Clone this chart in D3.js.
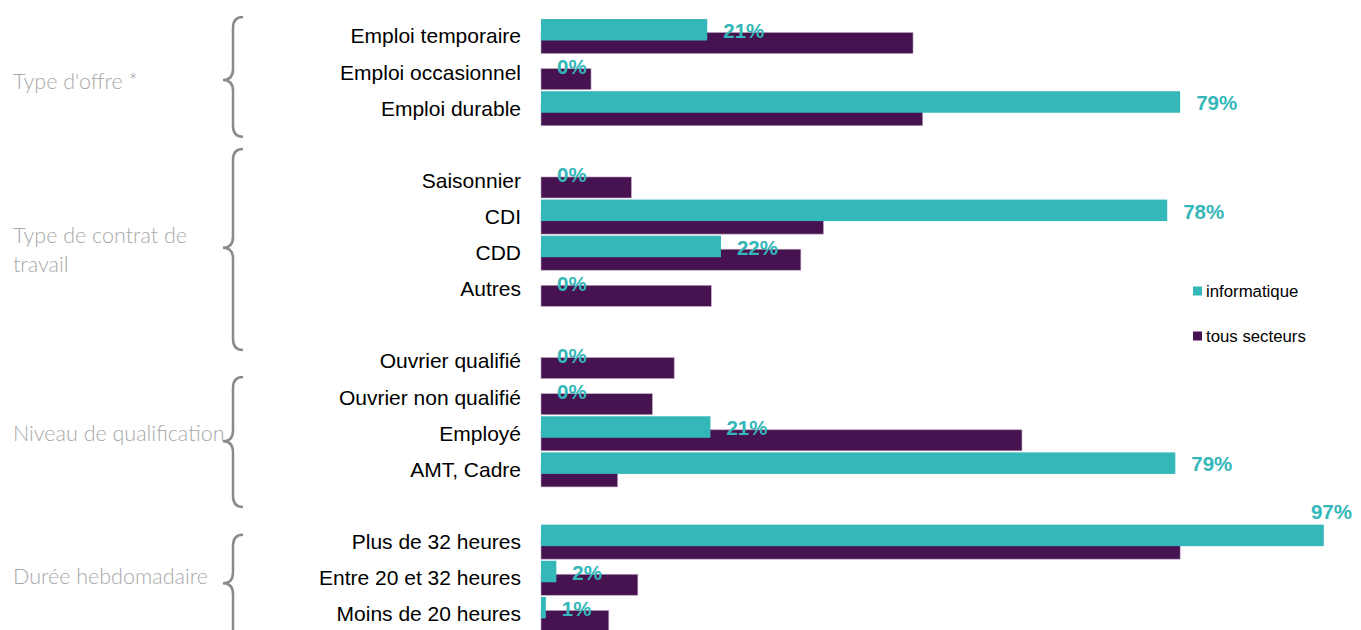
<!DOCTYPE html>
<html>
<head>
<meta charset="utf-8">
<script src="https://cdn.jsdelivr.net/npm/d3@7"></script>
<style>
  body { margin: 0; background: #fff; }
  svg { display: block; }
</style>
</head>
<body>
<div id="vis"></div>
<script>
// groups shown on the left, with their braces
var groupNames = ["Type d'offre *", "Type de contrat de travail", "Niveau de qualification", "Durée hebdomadaire"];

// categories (top to bottom) and the group each one belongs to
var categories = [
  "Emploi temporaire", "Emploi occasionnel", "Emploi durable",
  "Saisonnier", "CDI", "CDD", "Autres",
  "Ouvrier qualifié", "Ouvrier non qualifié", "Employé", "AMT, Cadre",
  "Plus de 32 heures", "Entre 20 et 32 heures", "Moins de 20 heures"
];
var categoryGroup = [0, 0, 0, 1, 1, 1, 1, 2, 2, 2, 2, 3, 3, 3];

// series values, in %
var seriesNames = ["informatique", "tous secteurs"];
var informatique = [20.6, 0, 79.2, 0, 77.6, 22.3, 0, 0, 0, 21.0, 78.6, 97.0, 1.9, 0.6];
var tousSecteurs = [46.1, 6.2, 47.3, 11.2, 35.0, 32.2, 21.1, 16.5, 13.8, 59.6, 9.5, 79.2, 12.0, 8.4];

var width = 1361;
var height = 630;
var teal = "#34b7b9";
var purple = "#46124f";

var svg = d3.select("#vis").append("svg")
  .attr("width", width)
  .attr("height", height);

// one slot per category, plus an empty slot between groups
var slots = [];
categories.forEach(function (c, i) {
  if (i > 0 && categoryGroup[i] !== categoryGroup[i - 1]) slots.push("gap" + i);
  slots.push(c);
});

var y = d3.scaleBand().domain(slots).range([18, 632]).padding(0);
var step = y.step();
// row index -> pixel, used for the braces and group labels
var yRow = d3.scaleLinear().domain([0, slots.length]).range([18, 632]);

var x = d3.scaleLinear().domain([0, 100]).range([541, 1348]);
var pct = d3.format(".0%");

var barH = 21.5;
var tealOff = 1;
var purpleOff = 14.5;

var data = categories.map(function (c, i) {
  return { name: c, info: informatique[i], tous: tousSecteurs[i] };
});

// tous secteurs bars (drawn first, teal overlaps them)
svg.append("g").selectAll("rect")
  .data(data)
  .join("rect")
  .attr("x", x(0))
  .attr("y", function (d) { return y(d.name) + purpleOff; })
  .attr("width", function (d) { return x(d.tous) - x(0); })
  .attr("height", barH - 0.5)
  .attr("fill", purple)
  .attr("stroke", "#b9a6bd")
  .attr("stroke-width", 0.6);

// informatique bars
svg.append("g").selectAll("rect")
  .data(data)
  .join("rect")
  .attr("x", x(0))
  .attr("y", function (d) { return y(d.name) + tealOff; })
  .attr("width", function (d) { return x(d.info) - x(0); })
  .attr("height", barH)
  .attr("fill", teal);

// value labels for informatique
svg.append("g").selectAll("text")
  .data(data)
  .join("text")
  .attr("font-family", "Liberation Sans, Arial, sans-serif")
  .attr("font-weight", "bold")
  .attr("font-size", 20.5)
  .attr("fill", teal)
  .attr("dy", "0.35em")
  .each(function (d) {
    var t = d3.select(this).text(pct(d.info / 100));
    var lx = x(d.info) + 16;
    var ly = y(d.name) + tealOff + barH / 2 + 1;
    if (lx + 44 > width - 5) {
      // no room on the right: put it above the bar
      t.attr("text-anchor", "end").attr("x", 1352).attr("y", y(d.name) + tealOff - 13);
    } else {
      t.attr("x", lx).attr("y", ly);
    }
  });

// category labels
svg.append("g").selectAll("text")
  .data(data)
  .join("text")
  .attr("x", 521)
  .attr("y", function (d) { return y(d.name) + step / 2; })
  .attr("dy", "0.35em")
  .attr("text-anchor", "end")
  .attr("font-family", "Liberation Sans, Arial, sans-serif")
  .attr("font-size", 21)
  .attr("fill", "#000")
  .text(function (d) { return d.name; });

// braces: top / bottom in row units
var braceRows = [[-0.03, 3.29], [3.63, 9.19], [9.94, 13.54], [14.31, 17.2]];
var braceTip = [1.72, 6.36, 11.72, 15.65];

function bracePath(yt, yb, ym) {
  var xe = 243, x0 = 233, xt = 223, r = 11;
  return "M" + xe + "," + yt +
    " Q" + x0 + "," + yt + " " + x0 + "," + (yt + r) +
    " L" + x0 + "," + (ym - r) +
    " Q" + x0 + "," + ym + " " + xt + "," + ym +
    " Q" + x0 + "," + ym + " " + x0 + "," + (ym + r) +
    " L" + x0 + "," + (yb - r) +
    " Q" + x0 + "," + yb + " " + xe + "," + yb;
}

svg.append("g").selectAll("path")
  .data(braceRows)
  .join("path")
  .attr("d", function (d, i) { return bracePath(yRow(d[0]), yRow(d[1]), yRow(braceTip[i])); })
  .attr("fill", "none")
  .attr("stroke", "#8a8a8a")
  .attr("stroke-width", 2.5);

// group labels
var groupLabelRow = [1.77, 6.42, 11.49, 15.47];
var groupLines = [["Type d'offre *"], ["Type de contrat de", "travail"], ["Niveau de qualification"], ["Durée hebdomadaire"]];

svg.append("g").selectAll("text")
  .data(groupNames)
  .join("text")
  .attr("font-family", "Lato, 'Open Sans', sans-serif")
  .attr("font-weight", 300)
  .attr("font-size", 21.5)
  .attr("fill", "#a8a8a8")
  .each(function (d, i) {
    var lines = groupLines[i];
    var cy = yRow(groupLabelRow[i]);
    var lh = 29;
    d3.select(this).selectAll("tspan")
      .data(lines)
      .join("tspan")
      .attr("x", 13)
      .attr("y", function (l, j) { return cy + (j - (lines.length - 1) / 2) * lh; })
      .attr("dy", "0.35em")
      .text(function (l) { return l; });
  });

// legend
var legend = svg.append("g").selectAll("g")
  .data(seriesNames)
  .join("g")
  .attr("transform", function (d, i) { return "translate(1193," + (291 + i * 45) + ")"; });

legend.append("rect")
  .attr("x", 0)
  .attr("y", -4.5)
  .attr("width", 9)
  .attr("height", 9)
  .attr("fill", function (d, i) { return i === 0 ? teal : purple; });

legend.append("text")
  .attr("x", 13)
  .attr("y", 0)
  .attr("dy", "0.35em")
  .attr("font-family", "Liberation Sans, Arial, sans-serif")
  .attr("font-size", 16.8)
  .attr("fill", "#000")
  .text(function (d) { return d; });
</script>
</body>
</html>
